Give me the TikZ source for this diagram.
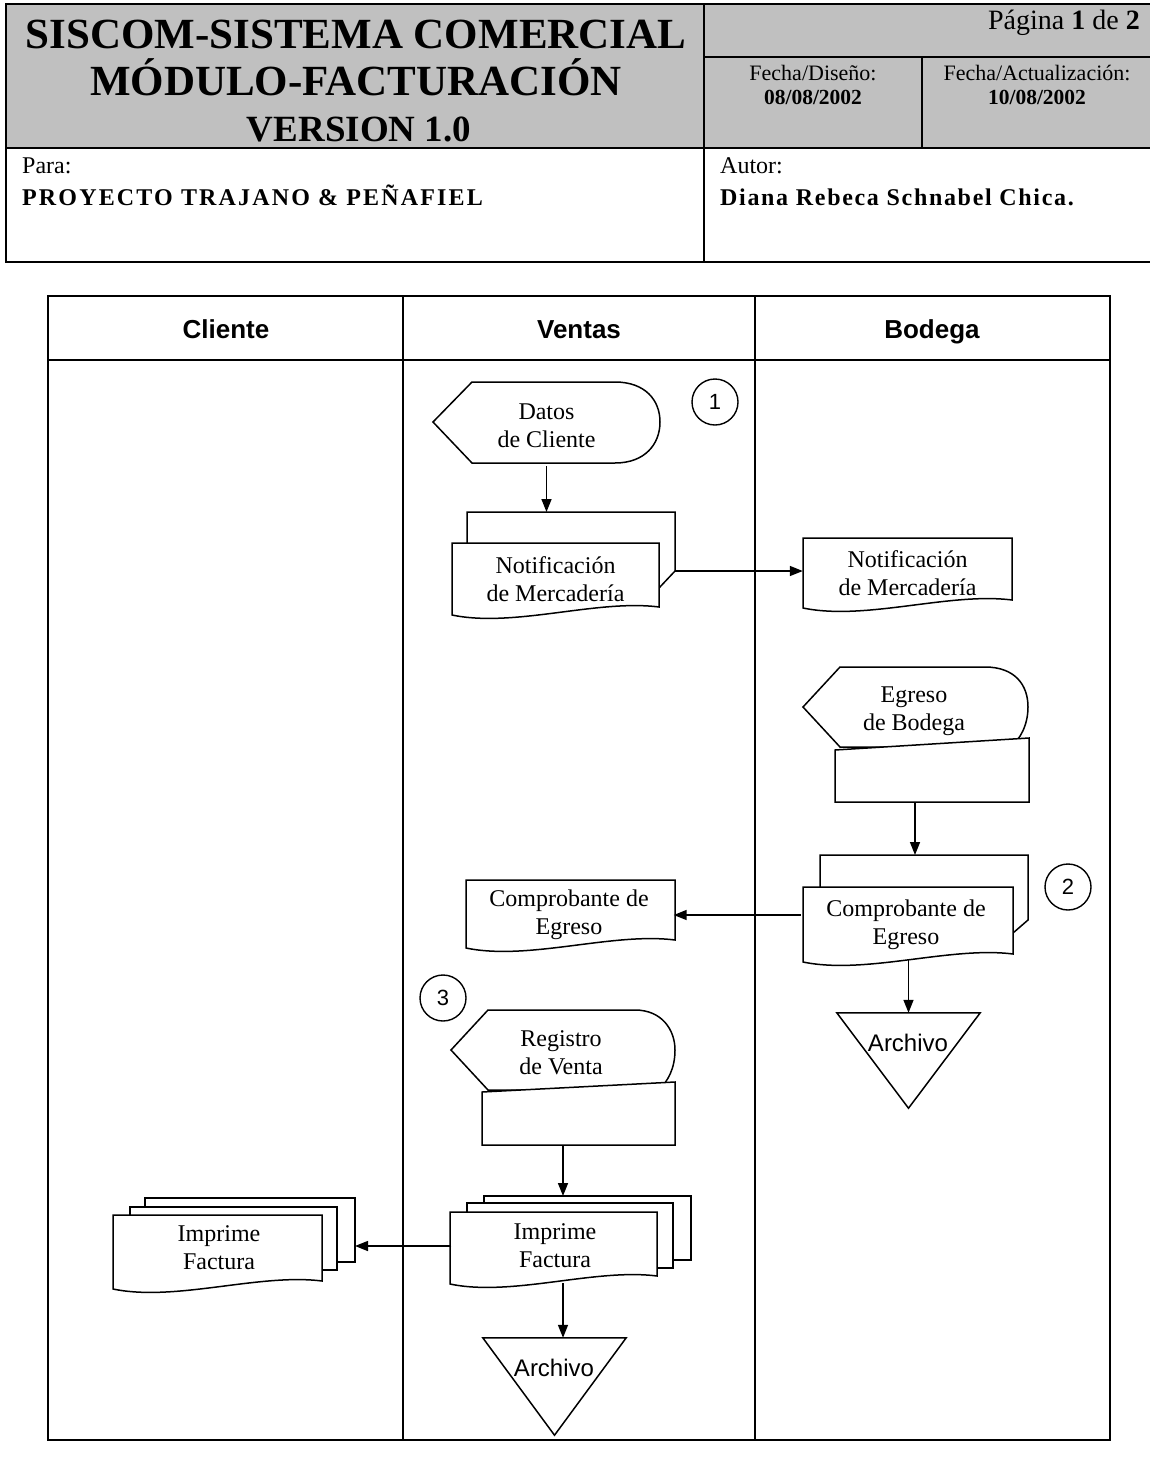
\documentclass[tikz,border=0pt]{standalone}
\usepackage{fontspec}
\setmainfont{Liberation Serif}
\newfontfamily\arialf{Liberation Sans}
\usetikzlibrary{arrows.meta,calc}
\definecolor{hdr}{RGB}{192,192,192}
% document shape: x1, top, x2, right-bottom y
\newcommand{\mydoc}[4]{%
  \draw[shp,fill=white] (#1,#2) -- (#3,#2) -- (#3,#4)
    .. controls ({#3-0.3*(#3-#1)},{#4-8}) and ({#1+0.3*(#3-#1)},{#4+21}) .. (#1,{#4+8}) -- cycle;}
\begin{document}
\begin{tikzpicture}[x=1pt,y=-1pt,
  shp/.style={line width=1.5pt, draw=black, line join=miter},
  arr/.style={line width=1.5pt, -{Triangle[length=13pt,width=10pt]}},
  txt/.style={font=\fontsize{24}{28}\selectfont, align=center, inner sep=0pt},
  sans/.style={font=\arialf\fontsize{24}{26}\selectfont, inner sep=0pt},
  num/.style={circle, draw, line width=1.4pt, minimum size=46pt, inner sep=0pt, font=\arialf\fontsize{22}{22}\selectfont},
  lane/.style={anchor=base, font=\arialf\bfseries\fontsize{26}{26}\selectfont, inner sep=0pt},
  frame/.style={line width=2pt},
  hd/.style={inner sep=0pt}
]
\useasboundingbox (0,0) rectangle (1150,1470);
\fill[white] (0,0) rectangle (1150,1470);

% ---------- header ----------
\fill[hdr] (6,4) rectangle (1150,148);
\draw[frame] (1150,4) -- (6,4) -- (6,262) -- (1150,262);
\draw[frame] (6,148) -- (1150,148);
\draw[frame] (704,4) -- (704,262);
\draw[frame] (704,57) -- (1150,57);
\draw[frame] (922,57) -- (922,148);

\node[hd, anchor=base, font=\fontsize{43}{43}\selectfont\bfseries] (t1) at (356,48) {SISCOM-SISTEMA COMERCIAL};
\node[hd, anchor=base, font=\fontsize{43}{43}\selectfont\bfseries] (t2) at (356,95) {MÓDULO-FACTURACIÓN};
\node[hd, anchor=base, font=\fontsize{37}{37}\selectfont\bfseries] (t3) at (359,141) {VERSION 1.0};
\node[hd, anchor=base east, font=\fontsize{28}{28}\selectfont] (pag) at (1140,29) {Página \textbf{1} de \textbf{2}};
\node[hd, anchor=base, font=\fontsize{22}{22}\selectfont] (fd) at (813,80) {Fecha/Diseño:};
\node[hd, anchor=base, font=\fontsize{21.5}{21.5}\selectfont\bfseries] (fdv) at (813,104) {08/08/2002};
\node[hd, anchor=base, font=\fontsize{22}{22}\selectfont] (fa) at (1037,80) {Fecha/Actualización:};
\node[hd, anchor=base, font=\fontsize{21.5}{21.5}\selectfont\bfseries] (fav) at (1037,104) {10/08/2002};
\node[hd, anchor=base west, font=\fontsize{24}{24}\selectfont] (para) at (22,173) {Para:};
\node[hd, anchor=base west, font=\fontsize{24}{24}\selectfont\bfseries\addfontfeature{LetterSpace=9}] (proy) at (22,205) {PROYECTO TRAJANO \& PEÑAFIEL};
\node[hd, anchor=base west, font=\fontsize{24}{24}\selectfont] (autor) at (720,173) {Autor:};
\node[hd, anchor=base west, font=\fontsize{24}{24}\selectfont\bfseries\addfontfeature{LetterSpace=7}] (diana) at (720,205) {Diana Rebeca Schnabel Chica.};

% ---------- swimlanes ----------
\draw[frame] (48,296) rectangle (1110,1440);
\draw[frame] (48,360) -- (1110,360);
\draw[frame] (403,296) -- (403,1440);
\draw[frame] (755,296) -- (755,1440);
\node[lane] (lc) at (226,338) {Cliente};
\node[lane] (lv) at (579,338) {Ventas};
\node[lane] (lb) at (932,338) {Bodega};

% ---------- Ventas: Datos de Cliente ----------
\draw[shp] (433,422) -- (472,382) -- (615,382)
  .. controls (645,382) and (660,400) .. (660,422)
  .. controls (660,444) and (645,463) .. (615,463) -- (472,463) -- cycle;
\node[txt, minimum width=227pt, minimum height=81pt] (datos) at (546.5,425.5) {Datos\\de Cliente};
\node[num] (c1) at (715,402) {1};

% Notificación (Ventas) multi-document
\draw[shp] (467,543) -- (467,512) -- (675,512) -- (675,571) -- (659,588);
\mydoc{452}{543}{659}{607}
\node[txt, minimum width=207pt, minimum height=70pt] (notif) at (555.5,579) {Notificación\\de Mercadería};
\coordinate (notifTop) at (563,512);
\coordinate (notifR) at (675,571);

% Notificación (Bodega)
\mydoc{803}{538}{1012}{600}
\node[txt, minimum width=209pt, minimum height=68pt] (notifB) at (907.5,573) {Notificación\\de Mercadería};

% Egreso de Bodega (display + manual input)
\draw[shp] (803,707) -- (840,667) -- (985,667)
  .. controls (1015,667) and (1028,685) .. (1028,707)
  .. controls (1028,725) and (1020,740) .. (1010,747) -- (840,747) -- cycle;
\node[txt, minimum width=225pt, minimum height=80pt] (egreso) at (914,711) {Egreso\\de Bodega};
\draw[shp, fill=white] (835,750) -- (1029,738) -- (1029,802) -- (835,802) -- cycle;
\coordinate (egBot) at (915,802);

% Comprobante de Egreso (Bodega) multi-document
\draw[shp] (820,887) -- (820,855) -- (1028,855) -- (1028,920) -- (1013,933);
\mydoc{803}{887}{1013}{954}
\node[txt, minimum width=210pt, minimum height=70pt] (compB) at (906,925) {Comprobante de\\Egreso};
\coordinate (compBtop) at (915,855);
\node[num] (c2) at (1068,887) {2};

% Comprobante de Egreso (Ventas)
\mydoc{466}{880}{675}{940}
\node[txt, minimum width=209pt, minimum height=64pt] (compV) at (569,915) {Comprobante de\\Egreso};

% Archivo (Bodega)
\node[minimum width=143pt, minimum height=95pt, inner sep=0pt] (archB) at (908.5,1060.5) {};
\draw[shp] (archB.north west) -- (archB.north east) -- (archB.south) -- cycle;
\node[sans] (archBt) at (908,1043) {Archivo};

% Registro de Venta
\node[num] (c3) at (443,998) {3};
\draw[shp] (451,1050) -- (488,1010) -- (635,1010)
  .. controls (662,1010) and (675,1030) .. (675,1050)
  .. controls (675,1068) and (668,1082) .. (658,1090) -- (488,1090) -- cycle;
\node[txt, minimum width=224pt, minimum height=80pt] (registro) at (561,1053) {Registro\\de Venta};
\draw[shp, fill=white] (482,1092) -- (675,1082) -- (675,1145) -- (482,1145) -- cycle;
\coordinate (regBot) at (563,1145);

% Imprime Factura (Ventas) 3 pages
\draw[shp] (484,1203) -- (484,1196) -- (691,1196) -- (691,1260) -- (673,1260);
\draw[shp] (467,1212) -- (467,1203) -- (673,1203) -- (673,1268) -- (657,1268);
\mydoc{450}{1212}{657}{1276}
\node[txt, minimum width=207pt, minimum height=70pt] (factV) at (555,1246) {Imprime\\Factura};
\coordinate (factVtop) at (563,1196);
\coordinate (factVbot) at (563,1283);

% Imprime Factura (Cliente) 3 pages
\draw[shp] (145,1207) -- (145,1198) -- (355,1198) -- (355,1262) -- (337,1262);
\draw[shp] (130,1215) -- (130,1207) -- (337,1207) -- (337,1270) -- (322,1270);
\mydoc{113}{1215}{322}{1281}
\node[txt, minimum width=209pt, minimum height=70pt] (factC) at (219,1248) {Imprime\\Factura};
\coordinate (factCR) at (355,1246);

% Archivo (Ventas)
\node[minimum width=143pt, minimum height=97pt, inner sep=0pt] (archV) at (554.5,1386.5) {};
\draw[shp] (archV.north west) -- (archV.north east) -- (archV.south) -- cycle;
\node[sans] (archVt) at (554,1368) {Archivo};

% ---------- connectors ----------
\draw[arr] (datos.south) -- (datos.south |- notifTop);
\draw[arr] (notifR) -- (notifR -| notifB.west);
\draw[arr] (egBot) -- (compBtop);
\draw[arr] (compV.east -| compB.west) -- (compV.east);
\draw[arr] (compB.south -| archB.north) -- (archB.north);
\draw[arr] (regBot) -- (factVtop);
\draw[arr] (factV.west) -- (factCR);
\draw[arr] (factVbot) -- (factVbot |- archV.north);
\end{tikzpicture}
\end{document}
